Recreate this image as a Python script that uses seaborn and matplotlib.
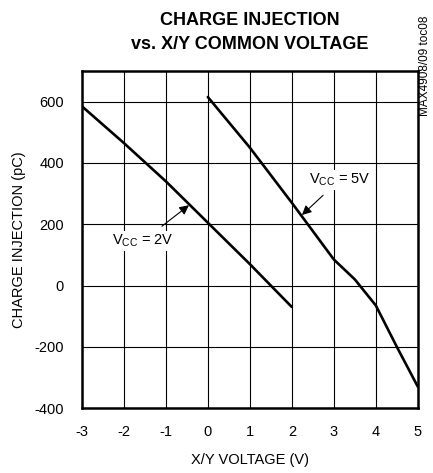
import pandas as pd
import matplotlib
matplotlib.use("Agg")
import matplotlib.pyplot as plt
import seaborn as sns

# Charge injection data
x_2v = [-3, -2, -1, 0, 1, 2]
y_2v = [585, 465, 340, 205, 70, -70]

x_5v = [0, 1, 2, 3, 3.5, 4, 4.5, 5]
y_5v = [615, 450, 270, 85, 20, -65, -200, -330]

x_ticks = [-3, -2, -1, 0, 1, 2, 3, 4, 5]
y_ticks = [-400, -200, 0, 200, 400, 600]

df = pd.concat([
    pd.DataFrame({'V': x_2v, 'Q': y_2v, 'VCC': '2V'}),
    pd.DataFrame({'V': x_5v, 'Q': y_5v, 'VCC': '5V'}),
])

sns.set_style("white")
plt.rcParams['font.family'] = ['Liberation Sans Narrow', 'Liberation Sans', 'DejaVu Sans']
plt.rcParams['axes.unicode_minus'] = False
plt.rcParams['text.color'] = 'black'
plt.rcParams['axes.labelcolor'] = 'black'

fig = plt.figure(figsize=(4.33, 4.73), dpi=100)
ax = fig.add_axes([0.189, 0.137, 0.776, 0.713])

sns.lineplot(data=df, x='V', y='Q', units='VCC', estimator=None,
             color='black', linewidth=1.9, legend=False, ax=ax)

ax.set_xlim(-3, 5)
ax.set_ylim(-400, 700)
ax.set_xticks(x_ticks)
ax.set_yticks(y_ticks)
ax.tick_params(axis='y', length=0, labelsize=10.5, pad=13, colors='black')
ax.tick_params(axis='x', length=0, labelsize=10.5, pad=12, colors='black')
ax.grid(True, color='black', linewidth=0.8)
ax.set_axisbelow(True)
for s in ax.spines.values():
    s.set_visible(True)
    s.set_color('black')
    s.set_linewidth(1.8)

ax.set_xlabel('X/Y VOLTAGE (V)', fontsize=10.5, labelpad=10)
ax.set_ylabel('CHARGE INJECTION (pC)', fontsize=10.5, labelpad=6)
ax.set_title('CHARGE INJECTION\nvs. X/Y COMMON VOLTAGE', fontsize=13,
             fontweight='bold', pad=16, linespacing=1.55, color='black')

box = dict(facecolor='white', edgecolor='none', pad=1)
ax.annotate('V$_{\\mathregular{CC}}$ = 2V', xy=(-0.45, 262), xytext=(-1.55, 145),
            fontsize=10.5, ha='center', va='center', bbox=box,
            arrowprops=dict(arrowstyle='-|>', color='black', lw=0.8,
                            mutation_scale=14, shrinkA=6, shrinkB=0))
ax.annotate('V$_{\\mathregular{CC}}$ = 5V', xy=(2.24, 230), xytext=(3.14, 345),
            fontsize=10.5, ha='center', va='center', bbox=box,
            arrowprops=dict(arrowstyle='-|>', color='black', lw=0.8,
                            mutation_scale=14, shrinkA=6, shrinkB=0))

fig.text(0.982, 0.968, 'MAX4908/09 toc08', rotation=90, fontsize=8.5,
         ha='center', va='top')

fig.savefig('out.png', dpi=100)
